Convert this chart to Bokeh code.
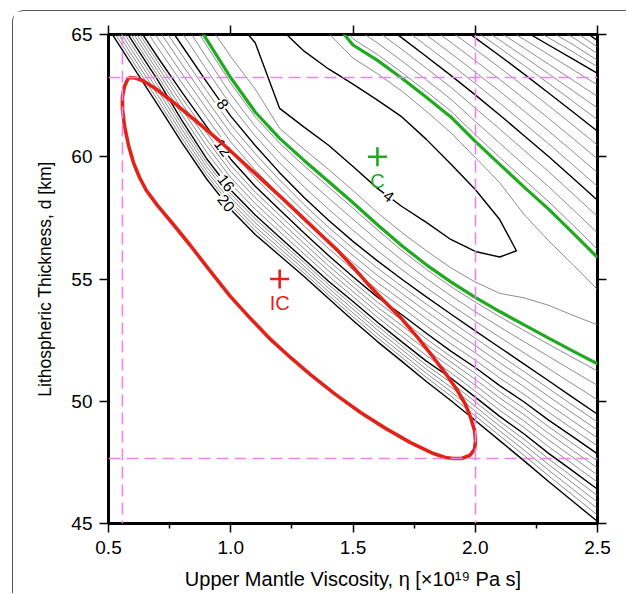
import numpy as np
from bokeh.plotting import figure
from bokeh.models import LinearAxis, Range1d, FixedTicker, Span, NumeralTickFormatter, CustomLabelingPolicy
from bokeh.embed import file_html
from bokeh.resources import INLINE
from bokeh.core.properties import value

# ---------------- data ----------------
# viscosity stations (x 1e19 Pa s) where the traced misfit contours are sampled
eta_stations = [0.5, 0.6, 0.7, 0.8, 0.9, 1.0, 1.1, 1.2, 1.3, 1.4, 1.5,
                1.6, 1.7, 1.8, 1.9, 2.0, 2.1, 2.2, 2.3, 2.4, 2.5]

# lithospheric thickness (km) of traced contours, ordered from lower-left to upper-right
row_out_lo = [63.41, 61.85, 60.30, 58.74, 57.27, 56.00, 54.98, 54.12, 53.26, 52.36, 51.46,
              50.60, 49.79, 48.97, 48.19, 47.37, 46.55, 45.72, 44.88, 44.06, 43.24]
row_20_lo = [65.25, 63.69, 62.14, 60.58, 59.11, 57.84, 56.82, 55.96, 55.10, 54.20, 53.30,
             52.44, 51.63, 50.81, 50.03, 49.21, 48.39, 47.56, 46.72, 45.90, 45.08]
row_16_lo = [66.24, 64.69, 63.15, 61.49, 59.94, 58.64, 57.62, 56.71, 55.81, 54.91, 54.08,
             53.23, 52.43, 51.64, 50.95, 50.17, 49.38, 48.66, 47.87, 47.14, 46.40]
row_12_lo = [67.15, 65.61, 64.09, 62.64, 61.25, 59.90, 58.79, 57.83, 56.88, 55.96, 55.09,
             54.26, 53.54, 52.78, 52.05, 51.38, 50.64, 49.97, 49.23, 48.54, 47.85]
row_8_lo = [69.05, 67.54, 66.04, 64.55, 63.08, 61.66, 60.46, 59.35, 58.33, 57.40, 56.54,
            55.74, 54.99, 54.27, 53.57, 52.88, 52.20, 51.52, 50.84, 50.15, 49.47]
row_g_lo = [71.22, 69.62, 68.03, 66.42, 64.82, 63.23, 61.83, 60.75, 59.85, 58.99, 58.12,
            57.22, 56.36, 55.58, 54.88, 54.25, 53.67, 53.12, 52.58, 52.05, 51.53]
row_min = [73.34, 71.91, 70.48, 69.05, 68.03, 67.05, 65.84, 63.00, 62.29, 61.73, 61.22,
           60.43, 59.81, 59.02, 58.08, 57.36, 56.66, 55.92, 55.27, 54.61, 53.92]
row_g_up = [75.72, 74.61, 73.51, 72.40, 71.30, 70.19, 69.09, 67.99, 66.88, 65.78, 64.57,
            63.94, 63.21, 62.43, 61.63, 60.63, 59.69, 58.76, 57.86, 56.88, 55.88]
row_8_up = [77.35, 76.25, 75.14, 74.04, 72.93, 71.83, 70.73, 69.62, 68.52, 67.09, 66.35,
            65.61, 64.86, 64.10, 63.33, 62.53, 61.71, 60.86, 60.01, 59.12, 58.22]
row_12_up = [79.11, 78.01, 76.90, 75.80, 74.69, 73.59, 72.48, 71.38, 70.28, 69.25, 68.48,
             67.74, 67.02, 66.30, 65.58, 64.86, 64.13, 63.38, 62.61, 61.83, 61.04]
row_16_up = [80.95, 79.85, 78.74, 77.64, 76.53, 75.43, 74.33, 73.22, 72.12, 71.09, 70.32,
             69.58, 68.84, 67.47, 66.89, 66.31, 65.73, 65.15, 64.57, 63.99, 63.41]
row_20_up = [82.38, 81.28, 80.17, 79.07, 77.97, 76.86, 75.76, 74.65, 73.55, 72.53, 71.75,
             71.01, 69.70, 69.09, 68.48, 67.86, 67.27, 66.67, 66.07, 65.47, 64.75]
row_out_up = [84.22, 83.12, 82.01, 80.91, 79.81, 78.70, 77.60, 76.49, 75.39, 74.37, 73.59,
              72.85, 71.54, 70.93, 70.32, 69.70, 69.11, 68.51, 67.91, 67.31, 66.59]

# misfit along the trough floor and misfit value of every traced row
misfit_min = [3.45, 3.45, 3.45, 3.45, 3.45, 3.43, 3.5, 3.0, 3.05, 2.98, 2.69,
              2.61, 2.62, 2.82, 2.99, 3.21, 3.59, 4.19, 4.4, 4.5, 4.6]
green_level = 5.2
row_misfit = [28, 20, 16, 12, 8, green_level, None, green_level, 8, 12, 16, 20, 28]

contour_levels = [4.0, 4.8, 5.2, 5.6, 6.4, 7.2, 8.0, 8.8, 9.6, 10.4, 11.2, 12.0, 12.8, 13.6,
                  14.4, 15.2, 16.0, 16.8, 17.6, 18.4, 19.2, 20.0]
annotated_levels = [4, 8, 12, 16, 20]
label_levels = [8, 12, 16, 20]
label_eta = [0.966, 0.966, 0.979, 0.980]
label4_eta = 1.645

# best-fit models
C_eta, C_d = [1.6], [60.0]
IC_eta, IC_d = [1.2], [55.0]

# red confidence curve (IC)
red_eta = [0.582, 0.610, 0.639, 0.692, 0.766, 0.835, 0.905, 0.966, 1.028, 1.101, 1.163,
           1.216, 1.285, 1.359, 1.437, 1.498, 1.559, 1.625, 1.694, 1.764, 1.829, 1.882,
           1.927, 1.960, 1.981, 1.997, 2.001, 1.997, 1.977, 1.944, 1.911,
           1.878, 1.829, 1.735, 1.633, 1.531, 1.428, 1.326, 1.244, 1.163, 1.081, 0.999,
           0.917, 0.835, 0.762, 0.700, 0.655, 0.627, 0.602, 0.582, 0.565, 0.557, 0.557,
           0.565, 0.582]
red_d = [63.24, 63.22, 63.12, 62.79, 62.22, 61.65, 61.07, 60.54, 59.97, 59.31, 58.74,
         58.25, 57.60, 56.90, 56.17, 55.51, 54.82, 54.12, 53.43, 52.61, 51.79, 51.09,
         50.44, 49.87, 49.34, 48.80, 48.39, 48.03, 47.78, 47.66, 47.66,
         47.70, 47.86, 48.31, 48.89, 49.54, 50.28, 51.09, 51.79, 52.53, 53.38, 54.28,
         55.31, 56.37, 57.27, 58.01, 58.62, 59.15, 59.76, 60.46, 61.28, 61.97, 62.46,
         62.87, 63.24]

x_ticks = [0.5, 1.0, 1.5, 2.0, 2.5]
x_minor_ticks = [0.75, 1.25, 1.75, 2.25]
y_ticks = [45, 50, 55, 60, 65]

# ---------------- figure ----------------
FONT = "Liberation Sans"
GREEN = "#1faa1f"
RED = "#e2231a"
MAGENTA = "#ee82ee"

p = figure(width=614, height=583, x_range=Range1d(0.5, 2.5), y_range=Range1d(45, 65),
           output_backend="svg", toolbar_location=None,
           min_border_left=95, min_border_right=30, min_border_top=23, min_border_bottom=71,
           margin=(10, 0, 0, 12),
           styles={"border-top": "1px solid #555", "border-left": "1px solid #555",
                   "border-top-left-radius": "12px"})
p.grid.visible = False
p.outline_line_color = "black"
p.outline_line_width = 3
p.background_fill_color = "white"
p.border_fill_color = "white"

# contour mesh built from the traced rows
rows = [row_out_lo, row_20_lo, row_16_lo, row_12_lo, row_8_lo, row_g_lo, row_min,
        row_g_up, row_8_up, row_12_up, row_16_up, row_20_up, row_out_up]
Y = np.array(rows, dtype=float)
X = np.tile(np.array(eta_stations, dtype=float), (len(rows), 1))
Z = np.array([misfit_min if m is None else [m] * len(eta_stations) for m in row_misfit], dtype=float)

colors, widths = [], []
for lv in contour_levels:
    if np.isclose(lv, green_level):
        colors.append(GREEN); widths.append(3.2)
    elif any(np.isclose(lv, a) for a in annotated_levels):
        colors.append("black"); widths.append(1.4)
    else:
        colors.append("#6f6f6f"); widths.append(0.8)

p.contour(X, Y, Z, levels=contour_levels, line_color=colors, line_width=widths)

# dashed bounds of the red curve
for loc, dim in [(min(red_eta), "height"), (max(red_eta), "height"),
                 (min(red_d), "width"), (max(red_d), "width")]:
    p.add_layout(Span(location=loc, dimension=dim, line_color=MAGENTA, line_width=1.6,
                      line_dash="12 6", level="glyph"))

# contour labels (positions follow the traced rows)
PX_X = 489 / 2.0
PX_Y = 489 / 20.0
row_by_level = {8: row_8_lo, 12: row_12_lo, 16: row_16_lo, 20: row_20_lo}
lx, ly, la, lt = [], [], [], []
for lv, e in zip(label_levels, label_eta):
    r = row_by_level[lv]
    d0 = np.interp(e, eta_stations, r)
    d1 = np.interp(e + 0.02, eta_stations, r)
    dm = np.interp(e - 0.02, eta_stations, r)
    ang = np.arctan2((d1 - dm) * PX_Y, 0.04 * PX_X)
    lx.append(e); ly.append(d0); la.append(ang); lt.append(str(lv))


def four_pos(e):
    c = np.interp(e, eta_stations, row_min)
    zc = np.interp(e, eta_stations, misfit_min)
    g = np.interp(e, eta_stations, row_g_lo)
    t = (4 - zc) / (green_level - zc)
    return c + t * (g - c)


d4 = four_pos(label4_eta)
ang4 = np.arctan2((four_pos(label4_eta + 0.03) - four_pos(label4_eta - 0.03)) * PX_Y, 0.06 * PX_X)
lx.append(label4_eta); ly.append(d4); la.append(ang4); lt.append("4")

p.text(x=lx, y=ly, text=lt, angle=la, text_font=value(FONT), text_font_size="15.5px",
       text_align="center", text_baseline="middle", text_color="black",
       background_fill_color="white", padding=1)

# red curve
p.line(red_eta, red_d, line_color=RED, line_width=3.6, line_join="round")

# markers and labels
p.scatter(C_eta, C_d, marker="cross", size=19, line_width=2.6, line_color=GREEN)
p.text(x=C_eta, y=C_d, text=["C"], y_offset=24, text_font=value(FONT), text_font_size="20px",
       text_align="center", text_baseline="middle", text_color=GREEN)
p.scatter(IC_eta, IC_d, marker="cross", size=19, line_width=2.6, line_color=RED)
p.text(x=IC_eta, y=IC_d, text=["IC"], y_offset=24, text_font=value(FONT), text_font_size="20px",
       text_align="center", text_baseline="middle", text_color=RED)


# axes
def style_axis(ax, label_size="19px"):
    ax.axis_line_color = None
    ax.major_tick_line_color = "black"
    ax.major_tick_line_width = 1.5
    ax.major_tick_out = 9
    ax.major_tick_in = 0
    ax.minor_tick_line_color = "black"
    ax.minor_tick_line_width = 1.5
    ax.minor_tick_out = 5
    ax.minor_tick_in = 0
    ax.major_label_text_font = FONT
    ax.major_label_text_font_size = label_size
    ax.major_label_text_color = "black"
    ax.axis_label_text_font = FONT
    ax.axis_label_text_font_style = "normal"
    ax.axis_label_text_color = "black"


p.xaxis.ticker = FixedTicker(ticks=x_ticks, minor_ticks=x_minor_ticks)
p.xaxis.formatter = NumeralTickFormatter(format="0.0")
p.yaxis.ticker = FixedTicker(ticks=y_ticks)
p.xaxis.axis_label = "Upper Mantle Viscosity, \u03b7 [\u00d710\u00b9\u2079 Pa s]"
p.yaxis.axis_label = "Lithospheric Thickness, d [km]"
style_axis(p.xaxis[0])
style_axis(p.yaxis[0])
p.xaxis.axis_label_text_font_size = "20px"
p.yaxis.axis_label_text_font_size = "17.5px"
p.xaxis.major_label_standoff = 8
p.xaxis.axis_label_standoff = 11
p.yaxis.major_label_standoff = 7
p.yaxis.axis_label_standoff = 13

no_labels = CustomLabelingPolicy(code="return []")
top = LinearAxis(ticker=FixedTicker(ticks=x_ticks), major_label_policy=no_labels)
style_axis(top, "1px")
top.major_label_standoff = 0
p.add_layout(top, "above")
right = LinearAxis(ticker=FixedTicker(ticks=y_ticks), major_label_policy=no_labels)
style_axis(right, "1px")
right.major_label_standoff = 0
p.add_layout(right, "right")

open("out.html", "w").write(file_html(p, INLINE))
